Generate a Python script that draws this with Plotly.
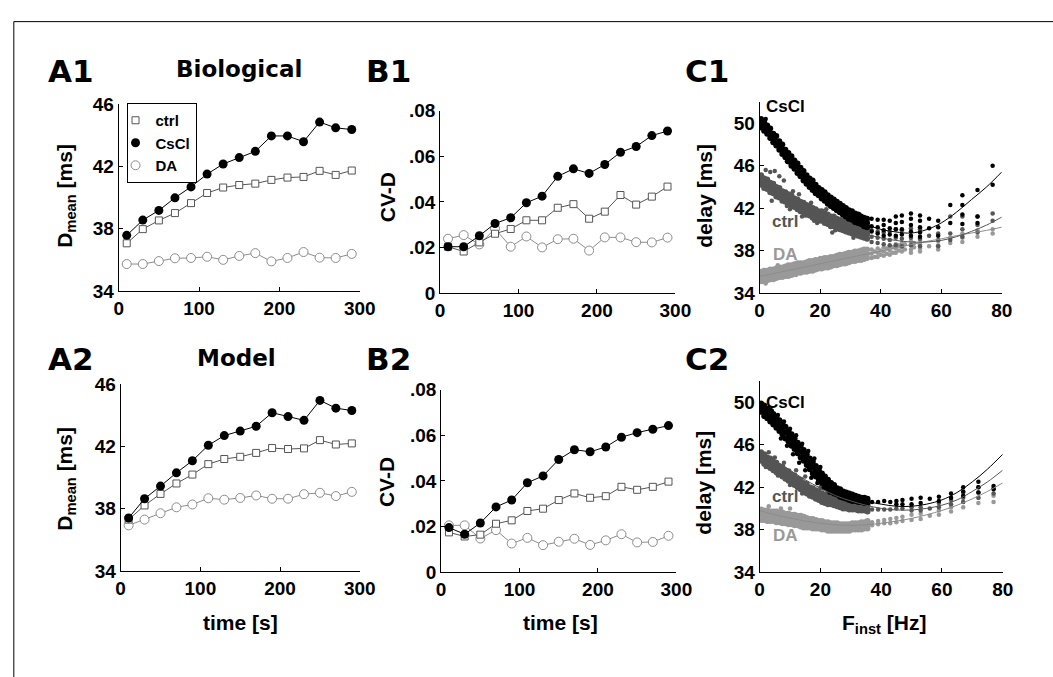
import plotly.graph_objects as go

W, H = 1053, 677

# ---- time courses (panels A and B) ----
time_s = [10, 30, 50, 70, 90, 110, 130, 150, 170, 190, 210, 230, 250, 270, 290]

dmean_bio_ctrl = [37.06, 37.97, 38.53, 39.0, 39.64, 40.29, 40.64, 40.8, 40.89, 41.13, 41.28, 41.32, 41.71, 41.45, 41.73]
dmean_bio_cscl = [37.57, 38.55, 39.17, 39.98, 40.68, 41.5, 42.15, 42.56, 42.96, 43.95, 43.95, 43.58, 44.84, 44.47, 44.36]
dmean_bio_da = [35.73, 35.73, 35.92, 36.1, 36.12, 36.2, 36.0, 36.25, 36.43, 35.9, 36.12, 36.5, 36.14, 36.12, 36.38]

cvd_bio_ctrl = [0.0203, 0.0182, 0.0222, 0.026, 0.0281, 0.0319, 0.0319, 0.0374, 0.039, 0.0326, 0.0357, 0.043, 0.0388, 0.0423, 0.0467]
cvd_bio_cscl = [0.0203, 0.0203, 0.0251, 0.0305, 0.033, 0.0396, 0.0425, 0.0512, 0.0545, 0.0525, 0.0564, 0.0618, 0.0643, 0.0691, 0.0711]
cvd_bio_da = [0.0238, 0.0254, 0.0213, 0.0282, 0.0203, 0.0248, 0.02, 0.0236, 0.0238, 0.0186, 0.0244, 0.0244, 0.0223, 0.0222, 0.0243]

dmean_mod_ctrl = [37.3, 38.21, 38.95, 39.62, 40.19, 40.86, 41.19, 41.33, 41.58, 41.89, 41.83, 41.87, 42.4, 42.12, 42.19]
dmean_mod_cscl = [37.4, 38.64, 39.45, 40.3, 41.08, 42.07, 42.69, 42.98, 43.29, 44.16, 43.91, 43.67, 44.95, 44.45, 44.3]
dmean_mod_da = [36.93, 37.3, 37.71, 38.09, 38.27, 38.67, 38.58, 38.69, 38.85, 38.64, 38.64, 38.93, 39.02, 38.81, 39.08]

cvd_mod_ctrl = [0.0174, 0.0156, 0.0164, 0.0212, 0.0227, 0.0268, 0.0278, 0.0316, 0.0345, 0.0326, 0.0333, 0.0374, 0.0361, 0.0374, 0.0397]
cvd_mod_cscl = [0.0195, 0.0166, 0.0215, 0.0286, 0.0316, 0.0392, 0.0422, 0.0494, 0.0537, 0.0528, 0.0549, 0.0592, 0.0612, 0.0627, 0.0643]
cvd_mod_da = [0.0205, 0.0205, 0.0147, 0.0184, 0.0125, 0.015, 0.0118, 0.0133, 0.0146, 0.0119, 0.0139, 0.0166, 0.013, 0.0132, 0.0159]

# ---- delay vs instantaneous frequency (panels C) ----
# dense part of each cloud: upper / middle / lower edge per frequency
dense_f = [0.5, 1.5, 2.5, 3.5, 4.5, 5.5, 6.5, 7.5, 8.5, 9.5, 10.5, 11.5, 12.5, 13.5, 14.5, 15.5, 16.5, 17.5,
           18.5, 19.5, 20.5, 21.5, 22.5, 23.5, 24.5, 25.5, 26.5, 27.5, 28.5, 29.5, 30.5, 31.5, 32.5, 33.5, 34.5, 35.5]

bio_cscl_hi = [50.4, 50.1, 49.8, 49.5, 49.0, 48.8, 48.3, 48.0, 47.5, 47.2, 46.9, 46.5, 46.2, 45.8, 45.5, 45.1, 44.8, 44.6,
               44.2, 43.9, 43.7, 43.5, 43.2, 43.0, 42.8, 42.6, 42.4, 42.2, 42.0, 41.8, 41.7, 41.5, 41.4, 41.2, 41.1, 41.0]
bio_cscl_mid = [50.0, 49.7, 49.3, 49.0, 48.6, 48.3, 47.9, 47.5, 47.1, 46.8, 46.4, 46.1, 45.7, 45.4, 45.0, 44.7, 44.4, 44.1,
                43.8, 43.5, 43.3, 43.0, 42.8, 42.6, 42.4, 42.2, 42.0, 41.8, 41.6, 41.4, 41.25, 41.1, 41.0, 40.85, 40.7, 40.6]
bio_cscl_lo = [49.6, 49.3, 49.0, 48.6, 48.2, 47.9, 47.5, 47.1, 46.8, 46.4, 46.0, 45.7, 45.3, 45.0, 44.6, 44.3, 44.0, 43.7,
               43.4, 43.2, 42.9, 42.7, 42.4, 42.2, 42.0, 41.8, 41.6, 41.4, 41.2, 41.0, 40.9, 40.7, 40.6, 40.5, 40.3, 40.2]
# scattered points: stripes at the higher rates plus loose points round the band
bio_cscl_sp_f = [37, 37, 37, 39, 39, 39, 41, 41, 41, 41, 43, 43, 43, 45, 45, 45, 45, 47, 47, 47, 47, 50, 50, 50, 50, 50,
                 53, 53, 53, 53, 53, 56, 56, 59, 59, 59, 63, 63, 67, 67, 67, 67, 72, 72, 72, 77, 77,
                 2, 5, 9, 14, 19, 24, 29, 33]
bio_cscl_sp_d = [41.0, 40.3, 39.8, 40.9, 40.2, 39.6, 40.9, 40.4, 39.9, 39.4, 40.8, 40.1, 39.5, 41.2, 40.6, 40.0, 39.4,
                 41.3, 40.7, 40.0, 39.5, 41.5, 41.0, 40.4, 39.8, 39.4, 41.3, 40.8, 40.2, 39.7, 39.3, 41.0, 40.1, 40.8,
                 40.2, 39.4, 42.3, 40.6, 43.2, 42.3, 41.4, 40.5, 43.7, 41.2, 40.6, 46.0, 44.2,
                 50.4, 48.9, 46.4, 45.6, 43.9, 42.9, 41.3, 41.4]

bio_ctrl_hi = [45.1, 44.8, 44.7, 44.4, 44.3, 44.0, 43.9, 43.6, 43.5, 43.3, 43.2, 42.9, 42.8, 42.6, 42.5, 42.3, 42.2, 42.0,
               41.9, 41.7, 41.7, 41.5, 41.4, 41.2, 41.2, 41.0, 40.9, 40.8, 40.7, 40.6, 40.5, 40.4, 40.3, 40.2, 40.1, 40.0]
bio_ctrl_mid = [44.6, 44.4, 44.2, 44.0, 43.8, 43.6, 43.4, 43.2, 43.0, 42.85, 42.7, 42.5, 42.35, 42.2, 42.05, 41.9, 41.75,
                41.6, 41.45, 41.3, 41.2, 41.05, 40.95, 40.8, 40.7, 40.6, 40.45, 40.35, 40.25, 40.15, 40.05, 39.95, 39.85,
                39.75, 39.65, 39.55]
bio_ctrl_lo = [44.2, 43.9, 43.8, 43.5, 43.4, 43.1, 43.0, 42.7, 42.6, 42.4, 42.2, 42.1, 41.9, 41.7, 41.6, 41.4, 41.3, 41.1,
               41.0, 40.8, 40.8, 40.6, 40.5, 40.3, 40.3, 40.1, 40.0, 39.9, 39.8, 39.7, 39.6, 39.5, 39.4, 39.3, 39.2, 39.1]
bio_ctrl_sp_f = [37, 37, 37, 39, 39, 39, 41, 41, 41, 43, 43, 43, 45, 45, 45, 47, 47, 47, 50, 50, 50, 53, 53, 53, 56,
                 59, 59, 59, 63, 63, 63, 67, 67, 67, 72, 72, 72, 77, 77,
                 2, 3.5, 5, 6.5, 8, 4, 9, 11, 13, 15, 17, 19, 22, 25, 28, 31, 34, 10, 14, 18, 24, 30]
bio_ctrl_sp_d = [39.9, 39.3, 38.8, 39.8, 39.2, 38.7, 39.7, 39.1, 38.6, 39.8, 39.0, 38.5, 40.0, 39.2, 38.5, 39.9, 39.1,
                 38.4, 40.1, 39.2, 38.5, 40.0, 39.1, 38.4, 39.4, 39.6, 39.0, 38.4, 41.2, 39.6, 39.0, 41.2, 40.0, 39.3,
                 41.2, 40.4, 39.7, 41.5, 40.8,
                 45.6, 45.4, 45.5, 45.0, 44.6, 42.7, 42.2, 43.6, 43.3, 41.3, 42.5, 40.6, 41.9, 39.9, 41.2, 39.2, 40.4,
                 41.9, 41.2, 40.8, 39.7, 40.9]

bio_da_hi = [36.0, 36.1, 36.1, 36.2, 36.2, 36.3, 36.4, 36.4, 36.5, 36.6, 36.6, 36.7, 36.8, 36.8, 36.8, 36.9, 37.0, 37.0,
             37.1, 37.1, 37.2, 37.3, 37.3, 37.4, 37.4, 37.5, 37.6, 37.6, 37.7, 37.8, 37.8, 37.9, 37.9, 38.0, 38.1, 38.1]
bio_da_mid = [35.55, 35.6, 35.65, 35.7, 35.8, 35.85, 35.9, 36.0, 36.05, 36.1, 36.2, 36.25, 36.3, 36.35, 36.4, 36.45, 36.5,
              36.6, 36.65, 36.7, 36.8, 36.85, 36.9, 36.95, 37.0, 37.1, 37.15, 37.2, 37.3, 37.35, 37.4, 37.45, 37.5, 37.6,
              37.65, 37.7]
bio_da_lo = [35.1, 35.1, 35.2, 35.3, 35.3, 35.4, 35.5, 35.5, 35.6, 35.6, 35.7, 35.8, 35.9, 35.9, 36.0, 36.0, 36.1, 36.1,
             36.2, 36.3, 36.3, 36.4, 36.4, 36.5, 36.6, 36.6, 36.7, 36.8, 36.8, 36.9, 37.0, 37.0, 37.1, 37.1, 37.2, 37.3]
bio_da_sp_f = [37, 37, 37, 38, 38, 39, 39, 39, 40, 40, 41, 41, 41, 42, 42, 43, 43, 43, 44, 44, 45, 45, 45, 46, 46,
               47, 47, 47, 48, 48, 50, 50, 50, 50, 51, 51, 53, 53, 53, 53, 56, 59, 59, 59, 63, 63, 67, 67, 67, 72, 72,
               77, 77, 2, 6, 12, 20, 28, 33]
bio_da_sp_d = [38.1, 37.7, 37.3, 37.9, 37.4, 38.2, 37.8, 37.4, 38.0, 37.6, 38.3, 37.9, 37.5, 38.2, 37.7, 38.4, 38.0,
               37.6, 38.3, 37.8, 38.6, 38.2, 37.8, 38.5, 38.0, 38.7, 38.3, 37.9, 38.6, 38.1, 38.9, 38.5, 38.1, 37.8,
               38.7, 38.3, 39.0, 38.6, 38.2, 37.9, 38.4, 38.9, 38.5, 38.1, 39.2, 38.7, 39.6, 39.2, 38.8, 39.9, 39.3,
               40.0, 39.6, 34.9, 36.6, 35.7, 37.3, 36.7, 37.9]

mod_cscl_hi = [49.9, 49.7, 49.4, 49.2, 48.9, 48.6, 48.3, 48.0, 47.7, 47.3, 47.0, 46.6, 46.2, 45.9, 45.5, 45.1, 44.7, 44.4,
               44.0, 43.6, 43.3, 43.0, 42.7, 42.4, 42.2, 41.9, 41.8, 41.6, 41.5, 41.4, 41.3, 41.2, 41.1, 41.0, 41.0, 40.9]
mod_cscl_mid = [49.5, 49.2, 48.95, 48.7, 48.4, 48.1, 47.8, 47.5, 47.15, 46.8, 46.45, 46.1, 45.7, 45.35, 45.0, 44.6, 44.2,
                43.85, 43.5, 43.15, 42.85, 42.55, 42.25, 42.0, 41.8, 41.6, 41.45, 41.3, 41.2, 41.1, 41.0, 40.95, 40.85,
                40.8, 40.75, 40.7]
mod_cscl_lo = [49.1, 48.7, 48.5, 48.2, 47.9, 47.6, 47.3, 47.0, 46.6, 46.3, 45.9, 45.6, 45.2, 44.8, 44.5, 44.1, 43.7, 43.3,
               43.0, 42.7, 42.4, 42.1, 41.8, 41.6, 41.4, 41.3, 41.1, 41.0, 40.9, 40.8, 40.7, 40.7, 40.6, 40.6, 40.5, 40.5]
mod_cscl_sp_f = [37, 39, 41, 43, 45, 45, 47, 47, 50, 50, 53, 53, 56, 59, 59, 63, 63, 67, 67, 67, 72, 72, 72, 77, 77,
                 4, 6, 8, 10, 12, 14, 16, 18, 20, 7, 9, 11, 13, 15, 17, 19, 21, 23]
mod_cscl_sp_d = [40.6, 40.6, 40.7, 40.6, 40.7, 40.4, 40.8, 40.4, 40.9, 40.4, 41.0, 40.5, 40.9, 41.1, 40.7, 41.4, 41.0,
                 42.0, 41.6, 41.2, 42.5, 42.0, 41.5, 42.1, 41.8,
                 49.2, 48.8, 48.2, 47.5, 46.9, 46.1, 45.4, 44.7, 43.9, 46.6, 45.9, 45.1, 44.3, 43.6, 42.9, 42.4, 41.9, 41.5]

mod_ctrl_hi = [45.3, 45.1, 44.8, 44.7, 44.4, 44.3, 44.0, 43.9, 43.6, 43.5, 43.2, 43.1, 42.8, 42.7, 42.4, 42.3, 42.0, 41.9,
               41.7, 41.6, 41.4, 41.3, 41.2, 41.1, 41.0, 40.9, 40.8, 40.7, 40.6, 40.6, 40.5, 40.4, 40.4, 40.3, 40.3, 40.3]
mod_ctrl_mid = [44.9, 44.6, 44.4, 44.2, 44.0, 43.8, 43.6, 43.4, 43.2, 43.0, 42.8, 42.6, 42.4, 42.2, 42.0, 41.8, 41.6,
                41.45, 41.3, 41.15, 41.0, 40.9, 40.8, 40.7, 40.6, 40.5, 40.4, 40.35, 40.3, 40.25, 40.2, 40.15, 40.1,
                40.05, 40.0, 40.0]
mod_ctrl_lo = [44.5, 44.2, 44.0, 43.8, 43.6, 43.4, 43.2, 43.0, 42.8, 42.6, 42.4, 42.2, 42.0, 41.8, 41.6, 41.4, 41.2, 41.1,
               40.9, 40.8, 40.6, 40.5, 40.4, 40.4, 40.3, 40.2, 40.1, 40.0, 40.0, 39.9, 39.9, 39.9, 39.8, 39.8, 39.8, 39.7]
mod_ctrl_sp_f = [37, 39, 41, 43, 45, 47, 50, 50, 53, 53, 56, 59, 59, 63, 63, 67, 67, 67, 72, 72, 72, 77, 77,
                 3, 5, 8, 12, 15, 20, 2, 6, 10, 14]
mod_ctrl_sp_d = [39.9, 39.9, 39.9, 39.9, 40.0, 40.0, 40.1, 39.8, 40.1, 39.8, 40.0, 40.5, 40.1, 40.8, 40.4, 41.5, 41.0,
                 40.6, 42.0, 41.5, 41.0, 41.9, 41.4,
                 45.3, 44.8, 44.3, 43.6, 43.0, 42.0, 43.9, 43.1, 42.2, 41.4]

mod_da_hi = [39.9, 39.8, 39.8, 39.7, 39.7, 39.7, 39.6, 39.6, 39.5, 39.5, 39.4, 39.4, 39.3, 39.3, 39.2, 39.1, 39.0, 39.0,
             38.9, 38.8, 38.8, 38.7, 38.7, 38.6, 38.6, 38.6, 38.5, 38.5, 38.5, 38.5, 38.6, 38.6, 38.6, 38.7, 38.7, 38.8]
mod_da_mid = [39.4, 39.35, 39.3, 39.3, 39.25, 39.2, 39.15, 39.1, 39.05, 39.0, 38.95, 38.9, 38.85, 38.8, 38.7, 38.65, 38.6,
              38.55, 38.5, 38.45, 38.4, 38.35, 38.3, 38.3, 38.25, 38.25, 38.2, 38.2, 38.2, 38.2, 38.25, 38.3, 38.3,
              38.35, 38.4, 38.45]
mod_da_lo = [38.9, 38.9, 38.8, 38.8, 38.8, 38.7, 38.7, 38.6, 38.6, 38.5, 38.5, 38.4, 38.4, 38.3, 38.2, 38.2, 38.2, 38.1,
             38.1, 38.1, 38.0, 38.0, 37.9, 37.9, 37.9, 37.9, 37.9, 37.9, 37.9, 37.9, 38.0, 38.0, 38.0, 38.0, 38.1, 38.1]
mod_da_sp_f = [37, 37, 39, 39, 41, 41, 43, 43, 45, 45, 47, 47, 50, 50, 53, 53, 56, 59, 59, 63, 63, 67, 67, 72, 72, 77, 77,
               3, 7, 10]
mod_da_sp_d = [38.7, 38.4, 38.8, 38.5, 38.9, 38.6, 39.0, 38.6, 39.1, 38.7, 39.2, 38.8, 39.4, 38.9, 39.5, 39.0, 39.3,
               39.8, 39.4, 40.1, 39.7, 40.6, 40.1, 41.0, 40.5, 41.2, 40.6,
               40.2, 40.0, 40.0]

# fitted curves
fit_f = [0, 5, 10, 15, 20, 25, 30, 35, 40, 45, 50, 55, 60, 65, 70, 75, 80]
bio_cscl_fit = [50.2, 48.3, 46.4, 44.75, 43.3, 42.15, 41.2, 40.5, 40.0, 39.75, 39.65, 39.95, 40.6, 41.6, 42.8, 44.0, 45.4]
bio_ctrl_fit = [44.8, 43.8, 42.8, 41.95, 41.2, 40.55, 40.0, 39.55, 39.2, 38.95, 38.8, 38.8, 38.95, 39.3, 39.8, 40.4, 41.15]
bio_da_fit = [35.55, 35.85, 36.15, 36.45, 36.75, 37.05, 37.35, 37.65, 37.95, 38.25, 38.55, 38.85, 39.1, 39.4, 39.65, 39.9, 40.2]
mod_cscl_fit = [50.0, 48.2, 46.5, 44.9, 43.4, 42.2, 41.3, 40.7, 40.4, 40.2, 40.2, 40.4, 40.8, 41.5, 42.5, 43.7, 45.1]
mod_ctrl_fit = [45.4, 44.5, 43.6, 42.7, 41.9, 41.2, 40.7, 40.3, 40.0, 39.85, 39.85, 40.0, 40.3, 40.8, 41.6, 42.5, 43.6]
mod_da_fit = [39.8, 39.4, 39.1, 38.8, 38.6, 38.45, 38.4, 38.45, 38.6, 38.8, 39.05, 39.4, 39.8, 40.3, 40.9, 41.6, 42.4]

C_BLACK = "#000000"
C_CTRL = "#555555"
C_DA = "#8c8c8c"
C_DA_DOT = "#999999"

FONT = "Liberation Sans, Arial, sans-serif"
WIDE = "DejaVu Sans, Liberation Sans, sans-serif"


def px(x):
    return x / W


def py(y):
    return 1 - y / H


fig = go.Figure()


def add_time(xa, ya, ctrl, cscl, da):
    fig.add_trace(go.Scatter(x=time_s, y=da, mode="lines+markers", xaxis=xa, yaxis=ya, showlegend=False,
                             line=dict(color=C_DA, width=1),
                             marker=dict(symbol="circle", size=9, color="white", line=dict(color=C_DA, width=1))))
    fig.add_trace(go.Scatter(x=time_s, y=ctrl, mode="lines+markers", xaxis=xa, yaxis=ya, showlegend=False,
                             line=dict(color=C_CTRL, width=1),
                             marker=dict(symbol="square", size=7, color="white", line=dict(color=C_CTRL, width=1))))
    fig.add_trace(go.Scatter(x=time_s, y=cscl, mode="lines+markers", xaxis=xa, yaxis=ya, showlegend=False,
                             line=dict(color=C_BLACK, width=1),
                             marker=dict(symbol="circle", size=9, color=C_BLACK)))


def add_cloud(xa, ya, hi, mid, lo, sp_f, sp_d, color):
    # dense band drawn with slightly bigger dots so that it reads as a solid cloud
    fig.add_trace(go.Scatter(x=dense_f * 3, y=hi + mid + lo, mode="markers", xaxis=xa, yaxis=ya,
                             showlegend=False, marker=dict(size=6, color=color)))
    fig.add_trace(go.Scatter(x=sp_f, y=sp_d, mode="markers", xaxis=xa, yaxis=ya,
                             showlegend=False, marker=dict(size=4.5, color=color)))


def add_fit(xa, ya, vals, color):
    fig.add_trace(go.Scatter(x=fit_f, y=vals, mode="lines", xaxis=xa, yaxis=ya, showlegend=False,
                             line=dict(color=color, width=1, shape="spline")))


add_time("x", "y", dmean_bio_ctrl, dmean_bio_cscl, dmean_bio_da)
add_time("x2", "y2", cvd_bio_ctrl, cvd_bio_cscl, cvd_bio_da)
add_time("x4", "y4", dmean_mod_ctrl, dmean_mod_cscl, dmean_mod_da)
add_time("x5", "y5", cvd_mod_ctrl, cvd_mod_cscl, cvd_mod_da)

add_cloud("x3", "y3", bio_da_hi, bio_da_mid, bio_da_lo, bio_da_sp_f, bio_da_sp_d, C_DA_DOT)
add_cloud("x3", "y3", bio_ctrl_hi, bio_ctrl_mid, bio_ctrl_lo, bio_ctrl_sp_f, bio_ctrl_sp_d, C_CTRL)
add_cloud("x3", "y3", bio_cscl_hi, bio_cscl_mid, bio_cscl_lo, bio_cscl_sp_f, bio_cscl_sp_d, C_BLACK)
add_fit("x3", "y3", bio_da_fit, C_DA)
add_fit("x3", "y3", bio_ctrl_fit, C_CTRL)
add_fit("x3", "y3", bio_cscl_fit, C_BLACK)

add_cloud("x6", "y6", mod_da_hi, mod_da_mid, mod_da_lo, mod_da_sp_f, mod_da_sp_d, C_DA_DOT)
add_cloud("x6", "y6", mod_ctrl_hi, mod_ctrl_mid, mod_ctrl_lo, mod_ctrl_sp_f, mod_ctrl_sp_d, C_CTRL)
add_cloud("x6", "y6", mod_cscl_hi, mod_cscl_mid, mod_cscl_lo, mod_cscl_sp_f, mod_cscl_sp_d, C_BLACK)
add_fit("x6", "y6", mod_da_fit, C_DA)
add_fit("x6", "y6", mod_ctrl_fit, C_CTRL)
add_fit("x6", "y6", mod_cscl_fit, C_BLACK)

# legend entries (markers only, as in the original)
fig.add_trace(go.Scatter(x=[None], y=[None], mode="markers", name="ctrl",
                         marker=dict(symbol="square", size=7, color="white", line=dict(color=C_CTRL, width=1))))
fig.add_trace(go.Scatter(x=[None], y=[None], mode="markers", name="CsCl",
                         marker=dict(symbol="circle", size=9, color=C_BLACK)))
fig.add_trace(go.Scatter(x=[None], y=[None], mode="markers", name="DA",
                         marker=dict(symbol="circle", size=9, color="white", line=dict(color=C_DA, width=1))))

tickfont = dict(family=FONT, size=19, color="black", weight="bold")


def axis(dom, rng, vals, text=None, anchor=None):
    d = dict(domain=dom, range=rng, tickvals=vals, showline=True, linecolor="black", linewidth=1,
             ticks="inside", ticklen=4, tickcolor="black", tickwidth=1, showgrid=False, zeroline=False,
             tickfont=tickfont, anchor=anchor, fixedrange=True)
    if text is not None:
        d["ticktext"] = text
    return d


# pixel boxes: (left, right), (top, bottom)
boxes = {
    1: ((116, 362), (97, 290)),
    2: ((444, 684), (104, 292)),
    3: ((770, 1017), (95, 292)),
    4: ((118, 362), (386, 579)),
    5: ((445, 685), (392, 580)),
    6: ((770, 1018), (383, 580)),
}

t_ticks = [0, 100, 200, 300]
d_ticks = [34, 38, 42, 46]
cv_ticks = [0, 0.02, 0.04, 0.06, 0.08]
cv_text = ["0", ".02", ".04", ".06", ".08"]
f_ticks = [0, 20, 40, 60, 80]
delay_ticks = [34, 38, 42, 46, 50]

xspec = {1: ([0, 300], t_ticks, None), 2: ([0, 300], t_ticks, None), 3: ([0, 80], f_ticks, None),
         4: ([0, 300], t_ticks, None), 5: ([0, 300], t_ticks, None), 6: ([0, 80], f_ticks, None)}
yspec = {1: ([34, 46], d_ticks, None), 2: ([0, 0.08], cv_ticks, cv_text), 3: ([34, 52], delay_ticks, None),
         4: ([34, 46], d_ticks, None), 5: ([0, 0.08], cv_ticks, cv_text), 6: ([34, 52], delay_ticks, None)}

layout = {}
for i, ((l, r), (t, b)) in boxes.items():
    suf = "" if i == 1 else str(i)
    xr, xv, xt = xspec[i]
    yr, yv, yt = yspec[i]
    layout["xaxis" + suf] = axis([px(l), px(r)], xr, xv, xt, anchor="y" + suf)
    layout["yaxis" + suf] = axis([py(b), py(t)], yr, yv, yt, anchor="x" + suf)

ann = []


def label(text, x, y, size, family=FONT, color="black", xanchor="center", angle=0):
    ann.append(dict(text=text, x=px(x), y=py(y), xref="paper", yref="paper", showarrow=False,
                    xanchor=xanchor, yanchor="middle", textangle=angle,
                    font=dict(family=family, size=size, color=color, weight="bold")))


# panel letters and titles
for name, x, y in [("A1", 42, 63), ("B1", 366, 63), ("C1", 692, 63),
                   ("A2", 42, 360), ("B2", 366, 360), ("C2", 692, 360)]:
    label(name, x, y, 31, family=WIDE, xanchor="left")
label("Biological", 239, 61, 23, family=WIDE)
label("Model", 236, 359, 23, family=WIDE)

# axis titles
label("D<sub>mean</sub> [ms]", 62, 192, 21, angle=-90)
label("CV-D", 390, 193, 21, angle=-90)
label("delay [ms]", 713, 192, 21, angle=-90)
label("D<sub>mean</sub> [ms]", 62, 484, 21, angle=-90)
label("CV-D", 390, 487, 21, angle=-90)
label("delay [ms]", 713, 488, 21, angle=-90)
label("time [s]", 240, 632, 21)
label("time [s]", 567, 632, 21)
label("F<sub>inst</sub> [Hz]", 897, 634, 21)

# condition labels inside the C panels
label("CsCl", 774, 100, 17, xanchor="left")
label("ctrl", 781, 218, 17, color=C_CTRL, xanchor="left")
label("DA", 782, 252, 17, color=C_DA_DOT, xanchor="left")
label("CsCl", 774, 405, 17, xanchor="left")
label("ctrl", 781, 502, 17, color=C_CTRL, xanchor="left")
label("DA", 782, 542, 17, color=C_DA_DOT, xanchor="left")

fig.update_layout(
    width=W, height=H,
    margin=dict(l=0, r=0, t=0, b=0),
    paper_bgcolor="white", plot_bgcolor="white",
    annotations=ann,
    shapes=[dict(type="rect", xref="paper", yref="paper", x0=px(9), x1=1.05, y0=-0.05, y1=py(12),
                 line=dict(color="black", width=1))],
    legend=dict(x=px(124), y=py(96), xanchor="left", yanchor="top", bgcolor="rgba(255,255,255,0)",
                bordercolor="black", borderwidth=1, itemwidth=30, tracegroupgap=0, indentation=-12,
                font=dict(family=FONT, size=15, color="black", weight="bold")),
    showlegend=True,
    **layout,
)

# drop the browser's default page margin so the figure sits at the window origin
fig.write_html(
    "out.html",
    config={"displayModeBar": False},
    post_script="document.documentElement.style.margin='0px';document.body.style.margin='0px';"
                "document.documentElement.style.overflow='hidden';document.body.style.overflow='hidden';",
)
